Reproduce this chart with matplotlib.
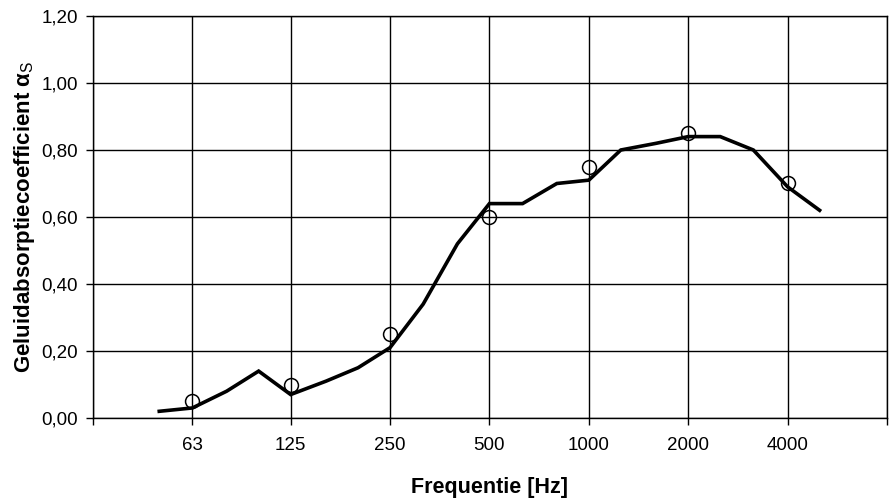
import numpy as np
import matplotlib
matplotlib.use("Agg")
import matplotlib.pyplot as plt
from matplotlib.ticker import FixedLocator, NullLocator, FuncFormatter

plt.rcParams['font.family'] = ['Liberation Sans', 'DejaVu Sans']
plt.rcParams['mathtext.fontset'] = 'custom'
plt.rcParams['mathtext.rm'] = 'Liberation Sans'
plt.rcParams['mathtext.it'] = 'Liberation Sans:italic'
plt.rcParams['mathtext.bf'] = 'Liberation Sans:bold'

# third-octave band curve
freq_third = [50, 63, 80, 100, 125, 160, 200, 250, 315, 400, 500, 630, 800,
              1000, 1250, 1600, 2000, 2500, 3150, 4000, 5000]
alpha_third = [0.02, 0.03, 0.08, 0.14, 0.07, 0.11, 0.15, 0.21, 0.34, 0.52, 0.64,
               0.64, 0.70, 0.71, 0.80, 0.82, 0.84, 0.84, 0.80, 0.69, 0.62]

# octave band values (markers)
freq_oct = [63, 125, 250, 500, 1000, 2000, 4000]
alpha_oct = [0.05, 0.10, 0.25, 0.60, 0.75, 0.85, 0.70]

x_ticks = [31.5, 63, 125, 250, 500, 1000, 2000, 4000, 8000]
x_labels = ['', '63', '125', '250', '500', '1000', '2000', '4000', '']
y_ticks = [0.0, 0.2, 0.4, 0.6, 0.8, 1.0, 1.2]

fig = plt.figure(figsize=(8.93, 5.0), dpi=100)
ax = fig.add_axes([93 / 893, 82 / 500, 794 / 893, 402 / 500])

ax.set_xscale('log', base=2)
ax.set_xlim(31.5, 8000)
ax.set_ylim(0, 1.2)

ax.xaxis.set_major_locator(FixedLocator(x_ticks))
ax.xaxis.set_minor_locator(NullLocator())
ax.set_xticklabels(x_labels)
ax.set_yticks(y_ticks)
ax.yaxis.set_major_formatter(FuncFormatter(lambda v, p: f'{v:.2f}'.replace('.', ',')))

ax.grid(True, color='black', linewidth=1.0)
ax.set_axisbelow(True)
for s in ax.spines.values():
    s.set_color('black')
    s.set_linewidth(1.0)
ax.tick_params(direction='out', length=5, width=1, colors='black', labelsize=13.5)
ax.tick_params(axis='x', pad=9)
ax.tick_params(axis='y', pad=6)

ax.plot(freq_third, alpha_third, color='black', linewidth=2.6, solid_joinstyle='miter')
ax.plot(freq_oct, alpha_oct, linestyle='none', marker='o', markersize=10,
        markerfacecolor='none', markeredgecolor='black', markeredgewidth=1.1)

ax.set_xlabel('Frequentie [Hz]', fontsize=15.5, fontweight='bold', labelpad=16)
ax.set_ylabel(r'Geluidabsorptiecoefficient α$_\mathrm{S}$', fontsize=16,
              fontweight='bold', labelpad=3)

fig.savefig('out.png', dpi=100)
